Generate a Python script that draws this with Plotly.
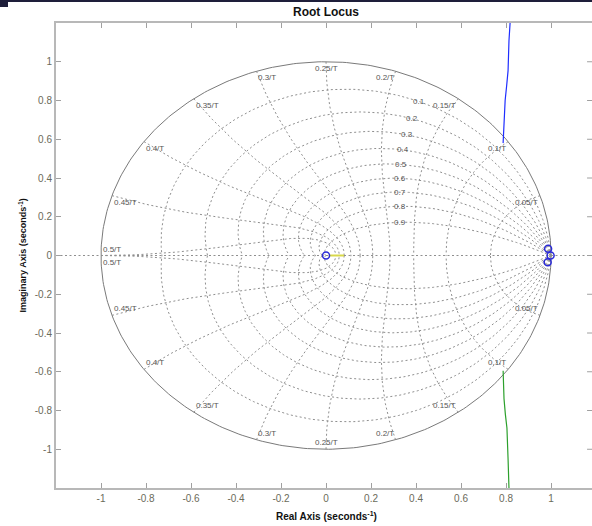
import numpy as np
import plotly.graph_objects as go

# z-plane grid definitions: damping ratios and natural frequencies (as f*T)
zeta_values = [0.1, 0.2, 0.3, 0.4, 0.5, 0.6, 0.7, 0.8, 0.9]
freq_values = [0.05, 0.1, 0.15, 0.2, 0.25, 0.3, 0.35, 0.4, 0.45, 0.5]
freq_labels = ["0.05/T", "0.1/T", "0.15/T", "0.2/T", "0.25/T",
               "0.3/T", "0.35/T", "0.4/T", "0.45/T", "0.5/T"]

# root locus branches (real, imag)
branch_up_re = [0.787, 0.792, 0.796, 0.803, 0.809, 0.813, 0.818]
branch_up_im = [0.58, 0.70, 0.80, 0.88, 0.954, 1.108, 1.20]
branch_dn_re = [0.787, 0.791, 0.797, 0.804, 0.809, 0.813]
branch_dn_im = [-0.595, -0.74, -0.82, -0.89, -1.05, -1.20]
segment_re = [0.012, 0.08]
segment_im = [0.0, 0.0]
markers_re = [0.0, 0.987, 0.998, 0.985]
markers_im = [0.0, 0.035, 0.0, -0.035]

x_ticks = [-1, -0.8, -0.6, -0.4, -0.2, 0, 0.2, 0.4, 0.6, 0.8, 1]
y_ticks = [-1, -0.8, -0.6, -0.4, -0.2, 0, 0.2, 0.4, 0.6, 0.8, 1]

GRID = "#8f8f8f"
LABEL = "#555555"
DOT = "2px,2.5px"

fig = go.Figure()

def add_line(x, y, color=GRID, dash=DOT, width=1):
    fig.add_trace(go.Scatter(x=x, y=y, mode="lines", hoverinfo="skip",
                             line=dict(color=color, dash=dash, width=width),
                             showlegend=False))

# real axis
add_line([-1.2, 1.2], [0, 0])

# unit circle (zeta = 0)
th = np.linspace(0, 2 * np.pi, 400)
add_line(np.cos(th), np.sin(th), color="#7a7a7a", dash="solid", width=1)

# constant damping spirals
theta = np.linspace(0, np.pi, 200)
for z in zeta_values:
    r = np.exp(-z * theta / np.sqrt(1 - z * z))
    add_line(np.concatenate([r * np.cos(theta), [None], r * np.cos(theta)]),
             np.concatenate([r * np.sin(theta), [None], -r * np.sin(theta)]))

# constant natural frequency curves
zs = np.linspace(0, 1, 120)
for f in freq_values:
    wT = 2 * np.pi * f
    s_re = -zs * wT
    s_im = wT * np.sqrt(1 - zs ** 2)
    zx = np.exp(s_re) * np.cos(s_im)
    zy = np.exp(s_re) * np.sin(s_im)
    add_line(np.concatenate([zx, [None], zx]),
             np.concatenate([zy, [None], -zy]))

# root locus
fig.add_trace(go.Scatter(x=branch_up_re, y=branch_up_im, mode="lines",
                         line=dict(color="#1f2eff", width=1.2),
                         hoverinfo="skip", showlegend=False))
fig.add_trace(go.Scatter(x=branch_dn_re, y=branch_dn_im, mode="lines",
                         line=dict(color="#2ca02c", width=1.2),
                         hoverinfo="skip", showlegend=False))
fig.add_trace(go.Scatter(x=segment_re, y=segment_im, mode="lines",
                         line=dict(color="#d8d84a", width=2),
                         hoverinfo="skip", showlegend=False))
fig.add_trace(go.Scatter(x=markers_re, y=markers_im, mode="markers",
                         marker=dict(symbol="circle-open", size=7,
                                     color="#2a2ad8", line=dict(width=1.5)),
                         hoverinfo="skip", showlegend=False))

annotations = []

# natural frequency labels on the unit circle
for f, lab in zip(freq_values, freq_labels):
    for sign in (1, -1):
        px = np.cos(2 * np.pi * f)
        py = sign * np.sin(2 * np.pi * f)
        if px > 0.05:
            xa = "right"
        elif px < -0.05:
            xa = "left"
        else:
            xa = "center"
        if abs(py) < 1e-6:
            ya = "bottom" if sign > 0 else "top"
        else:
            ya = "top" if sign > 0 else "bottom"
        annotations.append(dict(x=px, y=py, text=lab, showarrow=False,
                                xanchor=xa, yanchor=ya,
                                font=dict(size=8, color=LABEL,
                                          family="Liberation Sans")))

# damping labels placed at wn*T = 0.35*pi
for z in zeta_values:
    wT = 0.35 * np.pi
    r = np.exp(-z * wT)
    ang = wT * np.sqrt(1 - z * z)
    annotations.append(dict(x=r * np.cos(ang), y=r * np.sin(ang),
                            text=f"{z:g}", showarrow=False,
                            xanchor="center", yanchor="middle",
                            font=dict(size=8, color=LABEL,
                                      family="Liberation Sans")))

# titles
annotations.append(dict(x=0, y=1, xref="x", yref="paper", text="<b>Root Locus</b>",
                        showarrow=False, yanchor="bottom", yshift=2,
                        font=dict(size=12, color="#111111", family="Liberation Sans")))
annotations.append(dict(x=0, y=0, xref="x", yref="paper",
                        text="<b>Real Axis (seconds<sup>-1</sup>)</b>",
                        showarrow=False, yanchor="middle", yshift=-28,
                        font=dict(size=10, color="#111111", family="Liberation Sans")))
annotations.append(dict(x=0, y=0, xref="paper", yref="y",
                        text="<b>Imaginary Axis (seconds<sup>-1</sup>)</b>",
                        showarrow=False, textangle=-90, xanchor="center",
                        xshift=-34,
                        font=dict(size=9, color="#111111", family="Liberation Sans")))

shapes = []
# mirrored y ticks on the right edge
for yt in y_ticks:
    shapes.append(dict(type="line", xref="x", yref="y", x0=1.16, x1=1.185,
                       y0=yt, y1=yt, line=dict(color="#a0a0a0", width=1)))
# dark strip along the top edge
shapes.append(dict(type="rect", xref="paper", yref="paper",
                   x0=-56 / 536, x1=1, y0=1 + 21 / 465, y1=1 + 24 / 465,
                   line=dict(width=0), fillcolor="#1e1e3a"))
shapes.append(dict(type="rect", xref="paper", yref="paper",
                   x0=-56 / 536, x1=-48 / 536, y0=1 + 16 / 465, y1=1 + 24 / 465,
                   line=dict(width=0), fillcolor="#1e1e3a"))

axis_common = dict(showgrid=False, zeroline=False, showline=True,
                   linecolor="#b8b8b8", linewidth=2, ticks="inside",
                   ticklen=5, tickcolor="#a0a0a0",
                   tickfont=dict(size=10, color="#6b6b5a", family="Liberation Sans"))

fig.update_layout(
    width=592, height=526,
    margin=dict(l=56, r=0, t=23, b=38),
    paper_bgcolor="white", plot_bgcolor="white",
    annotations=annotations, shapes=shapes,
    xaxis=dict(range=[-1.2, 1.182], tickvals=x_ticks,
               ticktext=[f"{v:g}" for v in x_ticks], mirror="ticks",
               **axis_common),
    yaxis=dict(range=[-1.2, 1.2], tickvals=y_ticks,
               ticktext=[f"{v:g}" for v in y_ticks], **axis_common),
)

fig.write_html("out.html")
